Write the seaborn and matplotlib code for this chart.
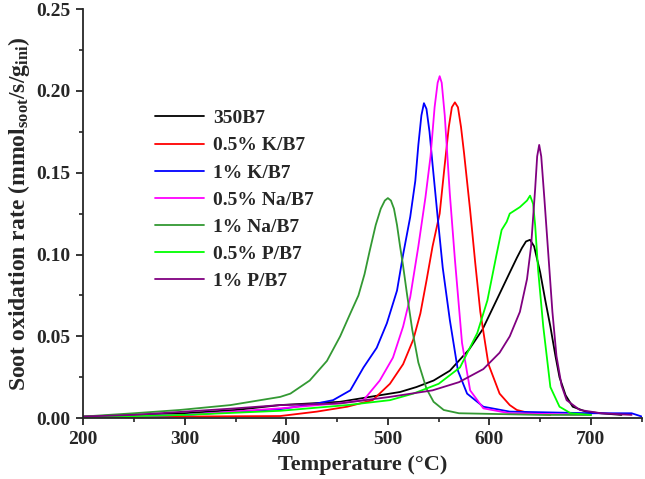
import pandas as pd
import matplotlib
matplotlib.use('Agg')
import matplotlib.pyplot as plt
import seaborn as sns
from matplotlib.ticker import MultipleLocator

# --- data (temperature in C, rate) ---
t_350b7 = [200, 250, 300, 350, 394, 453, 492, 512, 528, 545, 561, 580, 593, 610, 620, 627, 632, 636, 640, 644, 650, 655, 660, 665, 669, 675, 682, 695, 709, 730]
r_350b7 = [0.001, 0.002, 0.003, 0.005, 0.008, 0.010, 0.014, 0.016, 0.019, 0.023, 0.029, 0.042, 0.054, 0.076, 0.089, 0.098, 0.104, 0.108, 0.109, 0.105, 0.089, 0.072, 0.056, 0.038, 0.025, 0.014, 0.007, 0.004, 0.003, 0.002]

t_k05 = [200, 300, 394, 430, 460, 485, 502, 515, 525, 532, 538, 544, 551, 556, 560, 563, 566, 569, 572, 575, 581, 586, 591, 599, 610, 620, 627, 640, 660]
r_k05 = [0.0005, 0.001, 0.0013, 0.004, 0.007, 0.011, 0.021, 0.033, 0.048, 0.064, 0.084, 0.105, 0.125, 0.155, 0.178, 0.19, 0.193, 0.19, 0.178, 0.162, 0.127, 0.095, 0.065, 0.033, 0.015, 0.008, 0.005, 0.003, 0.002]

t_k1 = [200, 300, 394, 430, 446, 463, 476, 489, 499, 509, 515, 522, 527, 530, 533, 535.5, 538, 541, 544, 549, 554, 561, 569, 578, 594, 620, 700, 740, 750]
r_k1 = [0.0005, 0.002, 0.0055, 0.009, 0.011, 0.017, 0.031, 0.043, 0.058, 0.078, 0.1, 0.123, 0.145, 0.167, 0.185, 0.1925, 0.189, 0.175, 0.155, 0.123, 0.092, 0.06, 0.029, 0.015, 0.007, 0.004, 0.003, 0.003, 0.001]

t_na05 = [200, 300, 394, 450, 476, 492, 505, 515, 522, 530, 537, 542, 546, 549, 551, 553, 556, 561, 566, 573, 581, 594, 620, 700]
r_na05 = [0.0005, 0.002, 0.006, 0.009, 0.011, 0.023, 0.037, 0.056, 0.074, 0.105, 0.135, 0.16, 0.19, 0.205, 0.209, 0.205, 0.185, 0.137, 0.097, 0.046, 0.017, 0.006, 0.003, 0.002]

t_na1 = [200, 250, 295, 345, 394, 404, 423, 440, 453, 463, 471, 477, 482, 488, 493, 497, 500, 503, 506, 509, 512, 515, 519, 524, 530, 538, 545, 555, 570, 650, 700]
r_na1 = [0.001, 0.003, 0.005, 0.008, 0.013, 0.015, 0.023, 0.035, 0.05, 0.064, 0.075, 0.088, 0.102, 0.118, 0.128, 0.133, 0.1345, 0.133, 0.128, 0.118, 0.105, 0.093, 0.075, 0.054, 0.034, 0.018, 0.01, 0.005, 0.003, 0.002, 0.002]

t_p05 = [200, 300, 394, 460, 502, 525, 550, 571, 588, 598, 607, 612, 617, 620, 630, 637, 640, 643, 645, 648, 653, 660, 669, 680, 700]
r_p05 = [0.0005, 0.002, 0.0045, 0.008, 0.011, 0.015, 0.021, 0.031, 0.052, 0.072, 0.1, 0.115, 0.12, 0.125, 0.129, 0.133, 0.136, 0.131, 0.118, 0.09, 0.056, 0.019, 0.007, 0.003, 0.002]

t_p1 = [200, 250, 300, 350, 394, 453, 502, 544, 570, 594, 610, 620, 630, 637, 641, 645, 647, 649, 651, 654, 658, 662, 666, 671, 676, 689, 710, 740]
r_p1 = [0.001, 0.002, 0.004, 0.006, 0.008, 0.009, 0.013, 0.017, 0.022, 0.03, 0.04, 0.05, 0.065, 0.085, 0.105, 0.14, 0.16, 0.167, 0.16, 0.135, 0.1, 0.065, 0.038, 0.02, 0.011, 0.005, 0.003, 0.002]

labels = ['350B7', '0.5% K/B7', '1% K/B7', '0.5% Na/B7', '1% Na/B7', '0.5% P/B7', '1% P/B7']
colors = ['#000000', '#ff0000', '#0000ff', '#ff00ff', '#339933', '#00ff00', '#800080']

series = [(t_350b7, r_350b7), (t_k05, r_k05), (t_k1, r_k1), (t_na05, r_na05),
          (t_na1, r_na1), (t_p05, r_p05), (t_p1, r_p1)]

frames = []
for name, (t, r) in zip(labels, series):
    frames.append(pd.DataFrame({'T': t, 'rate': r, 'sample': name}))
df = pd.concat(frames, ignore_index=True)

sns.set_style('ticks')
plt.rcParams['font.family'] = ['Liberation Serif', 'DejaVu Serif']
plt.rcParams['font.weight'] = 'bold'
plt.rcParams['mathtext.fontset'] = 'custom'
plt.rcParams['mathtext.rm'] = 'Liberation Serif:bold'
plt.rcParams['mathtext.bf'] = 'Liberation Serif:bold'
plt.rcParams['mathtext.it'] = 'Liberation Serif:bold'
plt.rcParams['mathtext.default'] = 'bf'

fig = plt.figure(figsize=(6.45, 4.79), dpi=100)
ax = fig.add_axes([0.129, 0.127, 0.866, 0.854])

sns.lineplot(data=df, x='T', y='rate', hue='sample', hue_order=labels,
             palette=colors, sort=False, estimator=None, lw=1.3, ax=ax)

ax.set_xlim(200, 750)
ax.set_ylim(0, 0.25)
ax.xaxis.set_major_locator(MultipleLocator(100))
ax.xaxis.set_minor_locator(MultipleLocator(50))
ax.yaxis.set_minor_locator(MultipleLocator(0.025))
ax.set_yticks([0, 0.05, 0.10, 0.15, 0.20, 0.25])
ax.set_yticklabels(['0.00', '0.05', '0.10', '0.15', '0.20', '0.25'])
ax.tick_params(which='major', direction='out', length=5, width=1.3, labelsize=14, pad=4)
ax.tick_params(which='minor', direction='out', length=3, width=1.2)
for lab in ax.get_xticklabels() + ax.get_yticklabels():
    lab.set_fontweight('bold')
for s in ['left', 'bottom']:
    ax.spines[s].set_linewidth(1.3)
sns.despine(ax=ax)

ax.set_xlabel('Temperature (\u00b0C)', fontsize=16, fontweight='bold', labelpad=5)
ax.set_ylabel(r'Soot oxidation rate (mmol$_{soot}$/s/g$_{ini}$)', fontsize=17,
              fontweight='bold', labelpad=3)

leg = ax.legend(loc='upper left', bbox_to_anchor=(0.098, 0.797), frameon=False,
                prop={'family': 'Liberation Serif', 'weight': 'bold', 'size': 14},
                handlelength=2.5, handletextpad=0.45, labelspacing=0.49)
for line in leg.get_lines():
    line.set_linewidth(1.3)

fig.savefig('out.png', dpi=100)
